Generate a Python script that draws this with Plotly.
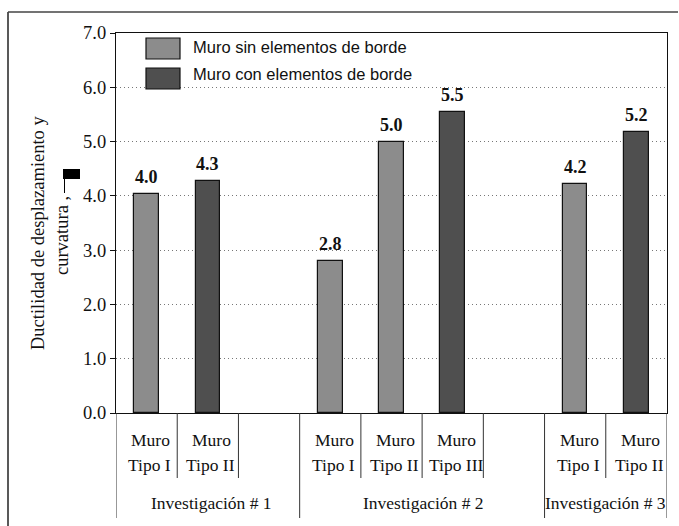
import plotly.graph_objects as go

# ---------------- data ----------------
slot_labels = ["Muro<br>Tipo I", "Muro<br>Tipo II", "",
               "Muro<br>Tipo I", "Muro<br>Tipo II", "Muro<br>Tipo III", "",
               "Muro<br>Tipo I", "Muro<br>Tipo II"]
group_labels = ["Investigación # 1", "Investigación # 2", "Investigación # 3"]
group_first_slot = [0, 3, 7]
group_last_slot = [2, 6, 8]

sin_name = "Muro sin elementos de borde"
sin_slots = [0, 3, 4, 7]
sin_values = [4.03, 2.80, 5.00, 4.22]

con_name = "Muro con elementos de borde"
con_slots = [1, 5, 8]
con_values = [4.27, 5.54, 5.18]

y_ticks = [0, 1, 2, 3, 4, 5, 6, 7]
y_title_1 = "Ductilidad de desplazamiento y"
y_title_2 = "curvatura ,"

# ---------------- styling ----------------
W, H = 679, 526
L, R, T, B = 116, 667, 33, 413
SERIF = "Liberation Serif"
SANS = "Liberation Sans"
LIGHT = "#8c8c8c"
DARK = "#4f4f4f"
INK = "#111"


def px(xp):
    return (xp - L) / (R - L)


def py(yp):
    return (B - yp) / (B - T)


fig = go.Figure()
fig.add_trace(go.Bar(x=sin_slots, y=sin_values, name=sin_name, width=0.4,
                     marker=dict(color=LIGHT, line=dict(color=INK, width=1.2)),
                     showlegend=False, hoverinfo="skip"))
fig.add_trace(go.Bar(x=con_slots, y=con_values, name=con_name, width=0.4,
                     marker=dict(color=DARK, line=dict(color=INK, width=1.2)),
                     showlegend=False, hoverinfo="skip"))

ann = []
shapes = []

# value labels
for xs, vs in ((sin_slots, sin_values), (con_slots, con_values)):
    for x, v in zip(xs, vs):
        ann.append(dict(x=x, y=v, xref="x", yref="y", text=f"<b>{v:.1f}</b>",
                        showarrow=False, yanchor="bottom", yshift=5,
                        font=dict(family=SERIF, size=18, color=INK)))

# slot labels
for i, lab in enumerate(slot_labels):
    if not lab:
        continue
    top, bot = lab.split("<br>")
    ann.append(dict(x=i, y=py(440), xref="x", yref="paper", text=top, showarrow=False,
                    yanchor="middle", xshift=4,
                    font=dict(family=SERIF, size=17.5, color=INK)))
    ann.append(dict(x=i, y=py(465), xref="x", yref="paper", text=bot, showarrow=False,
                    yanchor="middle", xshift=3,
                    font=dict(family=SERIF, size=17.5, color=INK)))

# group labels
group_shift = [4, 1, 0]
for lab, a, b, s in zip(group_labels, group_first_slot, group_last_slot, group_shift):
    ann.append(dict(x=(a + b) / 2, y=py(503), xref="x", yref="paper", text=lab,
                    showarrow=False, yanchor="middle", xshift=s,
                    font=dict(family=SERIF, size=17.5, color=INK)))

# divider lines below the axis
group_bounds = set([a - 0.5 for a in group_first_slot] + [group_last_slot[-1] + 0.5])
for i in range(len(slot_labels) + 1):
    xb = i - 0.5
    if xb in group_bounds:
        y1 = py(518)
    else:
        if not slot_labels[i - 1] and (i >= len(slot_labels) or i in group_first_slot):
            continue
        y1 = py(478)
    shapes.append(dict(type="line", xref="x", yref="paper", x0=xb, x1=xb,
                       y0=0, y1=y1, line=dict(color="#333", width=1)))

# legend (manual)
shapes.append(dict(type="rect", xref="paper", yref="paper", x0=px(146), x1=px(180),
                   y0=py(59), y1=py(38), fillcolor=LIGHT, line=dict(color=INK, width=1.2)))
shapes.append(dict(type="rect", xref="paper", yref="paper", x0=px(146), x1=px(180),
                   y0=py(89), y1=py(68), fillcolor=DARK, line=dict(color=INK, width=1.2)))
ann.append(dict(x=px(191), y=py(47), xref="paper", yref="paper", text=sin_name,
                showarrow=False, xanchor="left", yanchor="middle",
                font=dict(family=SANS, size=16.5, color=INK)))
ann.append(dict(x=px(191), y=py(74), xref="paper", yref="paper", text=con_name,
                showarrow=False, xanchor="left", yanchor="middle",
                font=dict(family=SANS, size=16.5, color=INK)))

# y-axis title
ann.append(dict(x=px(38), y=py(233), xref="paper", yref="paper", text=y_title_1,
                showarrow=False, textangle=-90, xanchor="center", yanchor="middle",
                font=dict(family=SERIF, size=18.5, color=INK)))
ann.append(dict(x=px(62), y=py(236), xref="paper", yref="paper", text=y_title_2,
                showarrow=False, textangle=-90, xanchor="center", yanchor="middle",
                font=dict(family=SERIF, size=18.5, color=INK)))
# broken symbol glyph after the title
shapes.append(dict(type="rect", xref="paper", yref="paper", x0=px(63), x1=px(80),
                   y0=py(179), y1=py(169), fillcolor="#000", line=dict(width=0)))
shapes.append(dict(type="line", xref="paper", yref="paper", x0=px(64.5), x1=px(64.5),
                   y0=py(193), y1=py(179), line=dict(color="#000", width=1)))

# outer frame (left edge and top edge)
shapes.append(dict(type="line", xref="paper", yref="paper", x0=px(8), x1=px(8),
                   y0=py(560), y1=py(12), line=dict(color="#222", width=1.5)))
for xa, xb in ((8, 300), (300, 520), (520, 678)):
    shapes.append(dict(type="line", xref="paper", yref="paper", x0=px(xa), x1=px(xb),
                       y0=py(12), y1=py(12), line=dict(color="#444", width=1.5)))

fig.update_layout(
    width=W, height=H,
    margin=dict(l=L, r=W - R, t=T, b=H - B),
    plot_bgcolor="white", paper_bgcolor="white",
    annotations=ann, shapes=shapes, bargap=0,
    xaxis=dict(range=[-0.5, len(slot_labels) - 0.5], showticklabels=False, ticks="",
               showgrid=False, zeroline=False, showline=True, linecolor=INK,
               linewidth=1.2, mirror=True, fixedrange=True),
    yaxis=dict(range=[0, 7], tickvals=y_ticks, tickformat=".1f", ticks="outside",
               ticklen=5, tickcolor=INK, showline=True, linecolor=INK,
               linewidth=1.2, mirror=True, showgrid=True, gridcolor="#777",
               griddash="1px,3px", gridwidth=1, zeroline=False, fixedrange=True,
               tickfont=dict(family=SERIF, size=18.5, color=INK)),
)

fig.write_html("out.html", config={"displayModeBar": False},
               post_script="document.body.style.margin='0';document.body.style.overflow='hidden';")
